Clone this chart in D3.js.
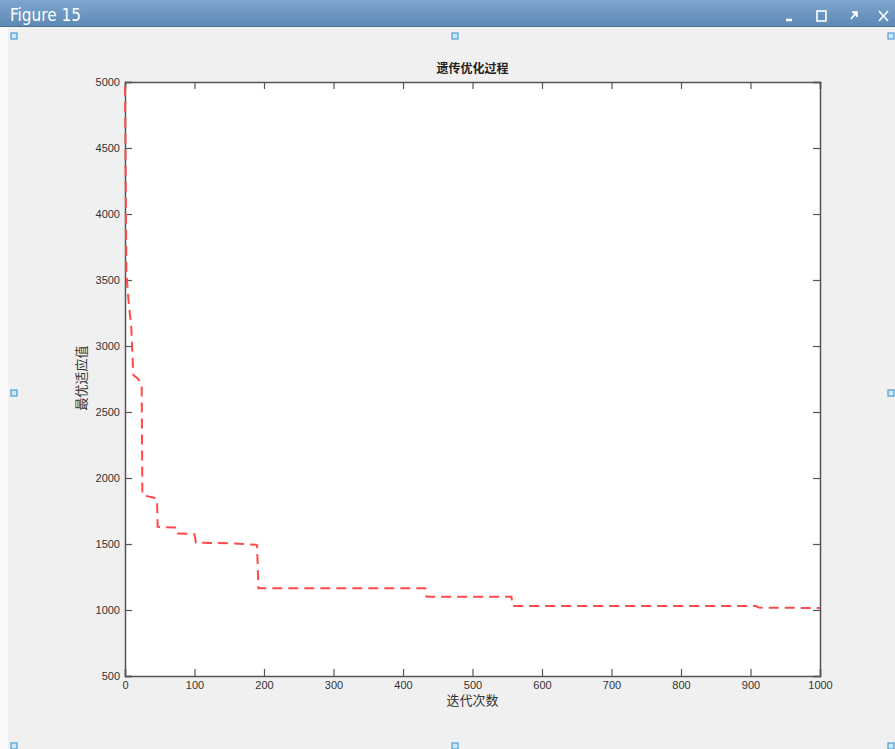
<!DOCTYPE html>
<html>
<head>
<meta charset="utf-8">
<script src="https://cdn.jsdelivr.net/npm/d3@7"></script>
<style>
  body { margin: 0; background: #fff; }
  svg { display: block; }
</style>
</head>
<body>
<div id="chart"></div>
<script>
// best fitness per generation (breakpoints)
var iters = [0, 1, 2, 5, 9, 12, 19, 24, 25, 42, 46, 47, 74, 76, 100, 102, 150, 188, 190, 192, 432, 434, 556, 558, 908, 912, 1000];
var values = [4970, 4300, 3560, 3350, 3140, 2780, 2750, 2700, 1870, 1850, 1840, 1630, 1625, 1580, 1575, 1510, 1505, 1495, 1490, 1165, 1165, 1100, 1100, 1030, 1030, 1018, 1015];
var xTicks = [0, 100, 200, 300, 400, 500, 600, 700, 800, 900, 1000];
var yTicks = [500, 1000, 1500, 2000, 2500, 3000, 3500, 4000, 4500, 5000];

var W = 895, H = 749;
var plotLeft = 125, plotRight = 820, plotTop = 82, plotBottom = 676;

var svg = d3.select('#chart').append('svg')
  .attr('width', W)
  .attr('height', H);

// window background
svg.append('rect').attr('width', W).attr('height', H).attr('fill', '#f0f0f0');
svg.append('rect').attr('x', 0).attr('y', 27).attr('width', 8).attr('height', H - 27).attr('fill', '#fafafa');

// title bar
var grad = svg.append('defs').append('linearGradient')
  .attr('id', 'bar').attr('x1', 0).attr('y1', 0).attr('x2', 0).attr('y2', 1);
grad.append('stop').attr('offset', '0%').attr('stop-color', '#7ea6cf');
grad.append('stop').attr('offset', '100%').attr('stop-color', '#5c88b5');
svg.append('rect').attr('width', W).attr('height', 27).attr('fill', 'url(#bar)');
svg.append('line').attr('x1', 0).attr('x2', W).attr('y1', 26.5).attr('y2', 26.5).attr('stroke', '#4a6f96');
svg.append('text')
  .attr('x', 10).attr('y', 21)
  .attr('fill', '#fff')
  .attr('font-family', 'DejaVu Sans Condensed, DejaVu Sans, sans-serif')
  .attr('font-size', '17px')
  .text('Figure 15');

var btn = svg.append('g').attr('stroke', '#fff').attr('fill', 'none').attr('stroke-width', 1.6);
btn.append('line').attr('x1', 786).attr('x2', 792).attr('y1', 20).attr('y2', 20).attr('stroke-width', 2.5);
btn.append('rect').attr('x', 817).attr('y', 11).attr('width', 9).attr('height', 10);
btn.append('line').attr('x1', 851).attr('y1', 19).attr('x2', 856).attr('y2', 13);
btn.append('path').attr('d', 'M852,12 L857,12 L857,17').attr('fill', '#fff');
btn.append('line').attr('x1', 879).attr('y1', 11).attr('x2', 888).attr('y2', 21);
btn.append('line').attr('x1', 888).attr('y1', 11).attr('x2', 879).attr('y2', 21);

// selection handles
var handles = [[14, 36], [455, 36], [891, 36], [14, 393], [891, 393], [14, 746], [455, 746], [891, 746]];
svg.selectAll('rect.handle').data(handles).enter().append('rect')
  .attr('class', 'handle')
  .attr('x', function(d) { return d[0] - 3; })
  .attr('y', function(d) { return d[1] - 3; })
  .attr('width', 6).attr('height', 6)
  .attr('fill', '#cfe6f7').attr('stroke', '#4a9fd8').attr('stroke-width', 1.2);

// axes
var x = d3.scaleLinear().domain([0, 1000]).range([plotLeft, plotRight]);
var y = d3.scaleLinear().domain([500, 5000]).range([plotBottom, plotTop]);

svg.append('rect')
  .attr('x', plotLeft).attr('y', plotTop)
  .attr('width', plotRight - plotLeft).attr('height', plotBottom - plotTop)
  .attr('fill', '#fff');

var font = 'Liberation Sans, Arial, sans-serif';

var gx = svg.append('g').attr('transform', 'translate(0,' + plotBottom + ')')
  .call(d3.axisBottom(x).tickValues(xTicks).tickSize(-7).tickPadding(5).tickFormat(d3.format('d')));
var gxt = svg.append('g').attr('transform', 'translate(0,' + plotTop + ')')
  .call(d3.axisTop(x).tickValues(xTicks).tickSize(-7).tickFormat(''));
var gy = svg.append('g').attr('transform', 'translate(' + plotLeft + ',0)')
  .call(d3.axisLeft(y).tickValues(yTicks).tickSize(-7).tickPadding(5).tickFormat(d3.format('d')));
var gyr = svg.append('g').attr('transform', 'translate(' + plotRight + ',0)')
  .call(d3.axisRight(y).tickValues(yTicks).tickSize(-7).tickFormat(''));

[gx, gxt, gy, gyr].forEach(function(g) {
  g.select('.domain').attr('stroke', '#555').attr('stroke-width', 1.5);
  g.selectAll('.tick line').attr('stroke', '#555').attr('stroke-width', 1.2);
  g.selectAll('.tick text').attr('fill', '#333').attr('font-family', font).attr('font-size', '11px');
});

// curve
var line = d3.line()
  .x(function(d, i) { return x(iters[i]); })
  .y(function(d) { return y(d); });

svg.append('path')
  .datum(values)
  .attr('d', line)
  .attr('fill', 'none')
  .attr('stroke', '#ff4a4a')
  .attr('stroke-width', 2)
  .attr('stroke-dasharray', '10,6');

// labels
var cjk = 'Noto Sans CJK SC, sans-serif';
svg.append('text')
  .attr('x', (plotLeft + plotRight) / 2).attr('y', 73)
  .attr('text-anchor', 'middle')
  .attr('font-family', cjk).attr('font-weight', 'bold').attr('font-size', '12px')
  .attr('fill', '#222')
  .text('遗传优化过程');

svg.append('text')
  .attr('x', (plotLeft + plotRight) / 2).attr('y', 705)
  .attr('text-anchor', 'middle')
  .attr('font-family', cjk).attr('font-size', '13px')
  .attr('fill', '#333')
  .text('迭代次数');

svg.append('text')
  .attr('transform', 'translate(86,378) rotate(-90)')
  .attr('text-anchor', 'middle')
  .attr('font-family', cjk).attr('font-size', '13px')
  .attr('fill', '#333')
  .text('最优适应值');
</script>
</body>
</html>
